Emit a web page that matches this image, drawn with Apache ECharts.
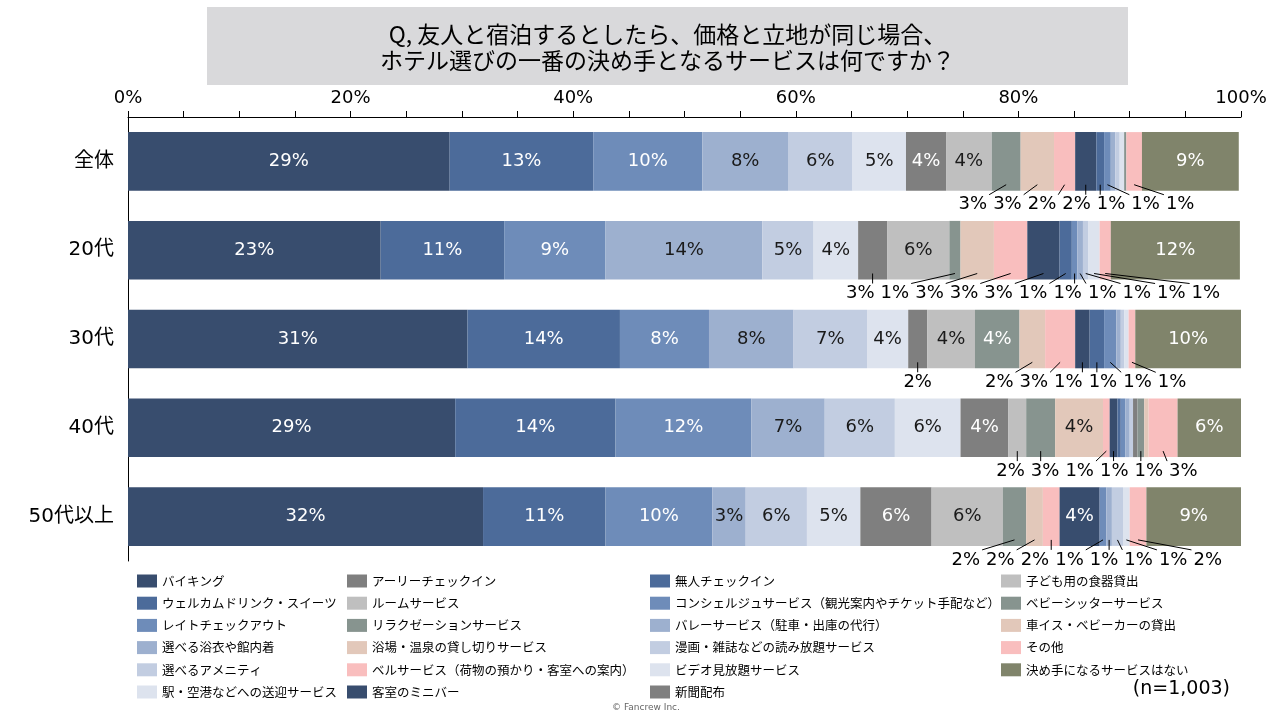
<!DOCTYPE html>
<html><head><meta charset="utf-8">
<script src="https://cdn.jsdelivr.net/npm/echarts@6/dist/echarts.min.js"></script>
<style>html,body{margin:0;padding:0;background:#fff}#chart{width:1280px;height:720px}</style>
</head><body><div id="chart"></div>
<script>
// ---------- data ----------
const categories = ['全体', '20代', '30代', '40代', '50代以上'];
const seriesNames = [
  'バイキング', 'ウェルカムドリンク・スイーツ', 'レイトチェックアウト', '選べる浴衣や館内着', '選べるアメニティ', '駅・空港などへの送迎サービス',
  'アーリーチェックイン', 'ルームサービス', 'リラクゼーションサービス', '浴場・温泉の貸し切りサービス', 'ベルサービス（荷物の預かり・客室への案内）', '客室のミニバー',
  '無人チェックイン', 'コンシェルジュサービス（観光案内やチケット手配など）', 'バレーサービス（駐車・出庫の代行）', '漫画・雑誌などの読み放題サービス', 'ビデオ見放題サービス', '新聞配布',
  '子ども用の食器貸出', 'ベビーシッターサービス', '車イス・ベビーカーの貸出', 'その他', '決め手になるサービスはない'
];
// percent values per category, in series order
const valuesAll = [28.9, 12.9, 9.8, 7.7, 5.8, 4.8, 3.6, 4.1, 2.6, 3.0, 1.9, 1.9, 0.7, 0.6, 0.4, 0.4, 0.4, 0, 0, 0.2, 0, 1.4, 8.7];
const values20s = [22.7, 11.1, 9.1, 14.1, 4.6, 4.0, 2.6, 5.6, 1.0, 3.0, 3.0, 2.9, 1.1, 0.5, 0.5, 0.5, 1.0, 0, 0, 0, 0, 1.0, 11.6];
const values30s = [30.5, 13.7, 8.0, 7.6, 6.6, 3.7, 1.7, 4.3, 4.0, 2.3, 2.7, 1.3, 1.3, 1.1, 0.4, 0.3, 0.4, 0, 0, 0, 0, 0.6, 9.5];
const values40s = [29.4, 14.4, 12.2, 6.6, 6.3, 5.9, 4.3, 1.6, 2.6, 4.3, 0.6, 0.7, 0.3, 0.4, 0.4, 0.3, 0, 0.4, 0, 0.6, 0.4, 2.6, 5.7];
const values50s = [31.9, 11.0, 9.6, 3.0, 5.5, 4.8, 6.4, 6.4, 2.1, 1.5, 1.5, 3.6, 0, 0.6, 0.5, 1.0, 0.6, 0, 0, 0, 0, 1.5, 8.5];
const axisMax = 100;
const axisStep = 5;
const axisLabelStep = 20;
const titleLines = ['Q, 友人と宿泊するとしたら、価格と立地が同じ場合、', 'ホテル選びの一番の決め手となるサービスは何ですか？'];
const sampleNote = '(n=1,003)';
const creditNote = '© Fancrew Inc.';

// ---------- styles ----------
const colors = [
  '#384D6E', '#4C6B9A', '#6E8CB9', '#9DB0CF', '#C2CDE1', '#DDE3EE',
  '#7F7F7F', '#BFBFBF', '#87948F', '#E2C8BA', '#F9BEBE', '#384D6E',
  '#4C6B9A', '#6E8CB9', '#9DB0CF', '#C2CDE1', '#DDE3EE', '#7F7F7F',
  '#BFBFBF', '#87948F', '#E2C8BA', '#F9BEBE', '#80846B'
];
const lightSeries = new Set([3, 4, 5, 7, 9, 10, 14, 15, 16, 18, 20, 21]);
const NUM_FONT = '"DejaVu Sans", "Noto Sans CJK JP", sans-serif';
const JP_FONT = '"Noto Sans CJK JP", sans-serif';

const rows = [valuesAll, values20s, values30s, values40s, values50s];
const isInside = (s, v) => v >= 3.5 || s < 6;

const measureCtx = document.createElement('canvas').getContext('2d');
measureCtx.font = '18px "DejaVu Sans"';
const textW = t => measureCtx.measureText(t).width;

// labels placed below the bars with leader lines
const outside = [];
rows.forEach((r, c) => {
  let cum = 0;
  r.forEach((v, s) => {
    if (v >= 0.5 && !isInside(s, v)) outside.push([cum, cum + v, c, Math.round(v)]);
    cum += v;
  });
});

function layoutCategory(c, api) {
  const items = [];
  outside.forEach((o, i) => {
    if (o[2] !== c) return;
    const txt = o[3] + '%';
    items.push({ i, txt, w: textW(txt), ideal: api.coord([(o[0] + o[1]) / 2, c])[0] });
  });
  const GAP = 6;
  const clusters = [];
  items.forEach(it => {
    clusters.push({ items: [it], sum: it.ideal, width: it.w, center: it.ideal });
    while (clusters.length > 1) {
      const b = clusters[clusters.length - 1], a = clusters[clusters.length - 2];
      if (a.center + a.width / 2 + GAP > b.center - b.width / 2) {
        a.items = a.items.concat(b.items);
        a.sum += b.sum;
        a.width += GAP + b.width;
        a.center = a.sum / a.items.length;
        clusters.pop();
      } else break;
    }
  });
  const pos = {};
  clusters.forEach(cl => {
    let x = cl.center - cl.width / 2;
    cl.items.forEach(it => {
      pos[it.i] = { left: x, right: x + it.w, cx: x + it.w / 2, txt: it.txt };
      x += it.w + GAP;
    });
  });
  return pos;
}

const barSeries = seriesNames.map((name, s) => ({
  name, type: 'bar', stack: 'total', barWidth: '66%',
  emphasis: { disabled: true },
  itemStyle: { color: colors[s] },
  label: {
    show: true, position: 'inside',
    color: lightSeries.has(s) ? '#1a1a1a' : '#ffffff',
    fontSize: 18, fontFamily: NUM_FONT,
    formatter: p => (p.value >= 0.5 && isInside(s, p.value)) ? Math.round(p.value) + '%' : ''
  },
  data: rows.map(r => r[s])
}));

const calloutSeries = {
  type: 'custom', coordinateSystem: 'cartesian2d', silent: true, clip: false, z: 10,
  encode: { x: [0, 1], y: 2 },
  data: outside,
  renderItem(params, api) {
    const o = outside[params.dataIndex];
    const c = o[2];
    const pos = layoutCategory(c, api)[params.dataIndex];
    const band = api.size([0, 1])[1];
    const cy = api.coord([0, c])[1];
    const bottom = cy + band * 0.33;
    const segX = api.coord([(o[0] + o[1]) / 2, c])[0];
    const ex = Math.min(Math.max(segX, pos.left - 2), pos.right + 2);
    return {
      type: 'group', children: [
        { type: 'line', shape: { x1: segX, y1: bottom - 6, x2: ex, y2: bottom + 4 }, style: { stroke: '#000', lineWidth: 1 } },
        { type: 'text', style: { text: pos.txt, x: pos.cx, y: bottom + 14, align: 'center', verticalAlign: 'middle', font: '18px "DejaVu Sans"', fill: '#000' } }
      ]
    };
  }
};

const legendCols = [[0, 6, 132], [6, 12, 342], [12, 18, 645], [18, 23, 996]];
const legends = legendCols.map(([a, b, left]) => ({
  orient: 'vertical', left, top: 569.5, itemWidth: 20, itemHeight: 13, itemGap: 9.2,
  icon: 'rect', selectedMode: false,
  textStyle: { fontSize: 12.5, color: '#000', fontFamily: JP_FONT },
  data: seriesNames.slice(a, b)
}));

const chart = echarts.init(document.getElementById('chart'));
chart.setOption({
  animation: false,
  backgroundColor: '#ffffff',
  textStyle: { fontFamily: NUM_FONT },
  grid: { left: 128, right: 39, top: 117, bottom: 159 },
  xAxis: {
    type: 'value', position: 'top', min: 0, max: axisMax, interval: axisStep,
    axisLine: { show: true, lineStyle: { color: '#000', width: 1 } },
    axisTick: { show: true, length: 6, lineStyle: { color: '#000' } },
    splitLine: { show: false },
    axisLabel: { fontSize: 18, color: '#000', margin: 10, fontFamily: NUM_FONT,
      formatter: v => (v % axisLabelStep === 0 ? v + '%' : '') }
  },
  yAxis: {
    type: 'category', inverse: true, data: categories,
    axisLine: { show: true, lineStyle: { color: '#000', width: 1 } },
    axisTick: { show: false },
    axisLabel: { fontSize: 20, color: '#000', margin: 14, fontFamily: NUM_FONT }
  },
  legend: legends,
  graphic: [
    { type: 'rect', left: 207, top: 7, shape: { width: 921, height: 78 }, style: { fill: '#D9D9DB' } },
    { type: 'text', x: 667.5, y: 34, style: { text: titleLines[0], align: 'center', verticalAlign: 'middle', font: '23px "Noto Sans CJK JP"', fill: '#000' } },
    { type: 'text', x: 667.5, y: 60, style: { text: titleLines[1], align: 'center', verticalAlign: 'middle', font: '23px "Noto Sans CJK JP"', fill: '#000' } },
    { type: 'text', x: 1230, y: 689, style: { text: sampleNote, align: 'right', verticalAlign: 'middle', font: '19px "DejaVu Sans"', fill: '#000' } },
    { type: 'text', x: 646, y: 708, style: { text: creditNote, align: 'center', verticalAlign: 'middle', font: '9px "DejaVu Sans"', fill: '#666' } }
  ],
  series: barSeries.concat([calloutSeries])
});
</script></body></html>
